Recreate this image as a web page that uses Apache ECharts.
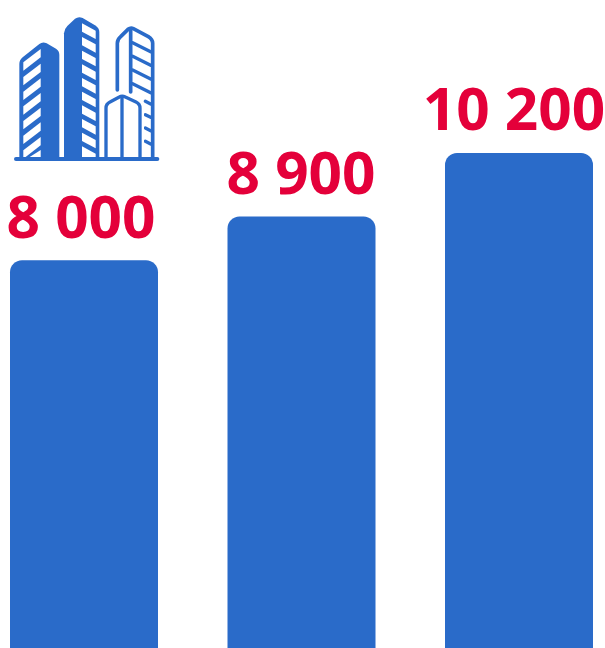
<!DOCTYPE html>
<html><head><meta charset="utf-8">
<style>html,body{margin:0;padding:0;background:#fff}#c{width:605px;height:648px}</style>
<script src="https://cdn.jsdelivr.net/npm/echarts@6/dist/echarts.min.js"></script>
</head><body><div id="c"></div>
<script>
const categories = ['1', '2', '3'];
const values = [8000, 8900, 10200];
const BLUE = '#2a6bc9', RED = '#e4003a';
const chart = echarts.init(document.getElementById('c'), null, {renderer: 'canvas'});

const L = [], W = '#ffffff';
let n = 0;
const add = (d, fill, stroke, lw) => {
  const name = 'iconPart' + (n++);
  echarts.graphic.registerShape(name, echarts.graphic.extendPath(d, {}));
  L.push({type: name,
    style: {fill: fill || null, stroke: stroke || null, lineWidth: lw || 0, lineCap: 'round', lineJoin: 'round'}});
};
// left tower
add('M58 472V192Q58 180 68 172L118 132Q128 124 140 130L168 146Q178 152 178 164V472Z', BLUE);
[147,191,235,279,323,367,411].forEach(y => add(`M70 ${y+40}L122 ${y}V${y+25}L70 ${y+65}Z`, W));
add('M88 472L122 450V472Z', W);
// middle tower
add('M192 472V100Q192 88 202 78L225 56Q236 48 248 54L285 76Q298 84 298 96V472Z', BLUE);
[70,111,152,193,234,275,316,357,398].forEach(y => add(`M246 ${y}L287 ${y+22}V${y+47}L246 ${y+25}Z`, W));
add('M246 439L287 461V472H246Z', W);
// right tower
add('M352 270V130Q352 118 362 110L384 88Q392 82 400 86L445 110Q458 118 458 130V472', null, BLUE, 11);
add('M392 90V276', null, BLUE, 11);
[128,169,210,251].forEach(y => add(`M398 ${y}L452 ${y+27}`, null, BLUE, 10));
[304,344,384,424].forEach(y => add(`M436 ${y}L452 ${y+8}`, null, BLUE, 10));
// white gap behind the front building, then the building itself
add('M306 480V324Q306 306 324 296L358 279Q366 275 376 279L412 296Q432 306 432 324V480Z', W);
add('M318 472V324Q318 312 330 306L358 291Q366 286 376 291L408 306Q420 312 420 324V472', null, BLUE, 10);
add('M366 290V472', null, BLUE, 10);
// ground
add('M48 477H472', null, BLUE, 12);

const labelShift = [-3, -0.5, -5];
chart.setOption({
  animation: false,
  grid: {left: -24.75, width: 652.5, top: 16.5, height: 634, outerBoundsMode: 'none'},
  xAxis: {type: 'category', data: categories, show: false},
  yAxis: {type: 'value', min: 0, max: 13000, show: false},
  series: [{
    type: 'bar', barWidth: 148,
    data: values.map((v, i) => ({value: v, label: {offset: [labelShift[i], 0]}})),
    itemStyle: {color: BLUE, borderRadius: [12, 12, 0, 0]},
    label: {show: true, position: 'top', distance: 10, color: RED,
      fontFamily: 'Open Sans', fontWeight: 'bold', fontSize: 58.5,
      formatter: p => String(p.value).replace(/\B(?=(\d{3})+$)/g, ' ')}
  }],
  graphic: [{type: 'group', x: 0, y: 0, scaleX: 1/3, scaleY: 1/3, silent: true, children: L}]
});
</script></body></html>
